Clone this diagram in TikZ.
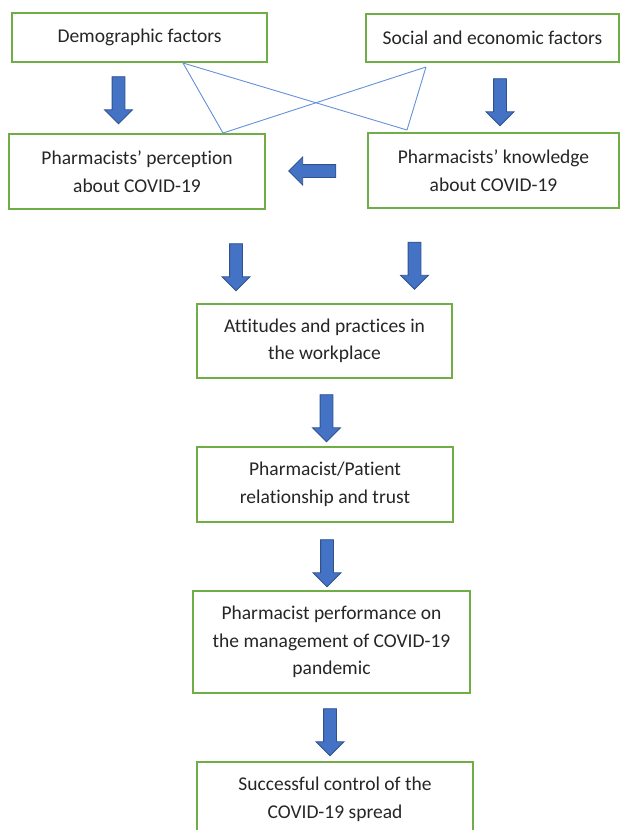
\documentclass[tikz,border=0pt]{standalone}
\usepackage{fontspec}
\setmainfont{Carlito}[Ligatures=NoCommon]
\usetikzlibrary{shapes.arrows}

\definecolor{boxgreen}{RGB}{112,173,71}
\definecolor{arrowfill}{RGB}{68,114,196}
\definecolor{arrowline}{RGB}{47,82,143}
\definecolor{linkblue}{RGB}{100,145,218}

\def\boxw{255}

\begin{document}
\begin{tikzpicture}[x=1pt,y=-1pt]
    \tikzstyle{every node}=[font=\fontsize{19.5}{27.5}\selectfont, text=black!85]
    \tikzstyle{factor}=[rectangle, draw=boxgreen, line width=2pt, fill=white, align=center, inner sep=0pt]
    \tikzstyle{block arrow}=[single arrow, draw=arrowline, fill=arrowfill, line width=0.8pt,
        inner sep=6pt, single arrow head extend=7.5pt, minimum height=47pt]
    \tikzstyle{down arrow}=[block arrow, shape border rotate=270]
    \tikzstyle{left arrow}=[block arrow, shape border rotate=180]
    \tikzstyle{link}=[draw=linkblue, line width=0.9pt]

    \useasboundingbox (0,0) rectangle (620,830);

    % Draw the top row of factors
    \node[factor, minimum width=\boxw, minimum height=49] (demo) at (139.5,37.5) {Demographic factors};
    \node[factor, minimum width=253, minimum height=48] (social) at (492.5,38) {Social and economic factors};

    % Draw the perception and knowledge boxes
    \node[factor, minimum width=256, minimum height=75] (percep) at (137,171.5) {Pharmacists’ perception\\about COVID-19};
    \node[factor, minimum width=251, minimum height=75] (know) at (493.5,170.5) {Pharmacists’ knowledge\\about COVID-19};

    % Draw the chain down the middle
    \node[factor, minimum width=\boxw, minimum height=74] (att) at (324.5,341) {Attitudes and practices in\\the workplace};
    \node[factor, minimum width=256, minimum height=75] (rel) at (325,484.5) {Pharmacist/Patient\\relationship and trust};
    \node[factor, minimum width=277, minimum height=102] (perf) at (331.5,642) {Pharmacist performance on\\the management of COVID-19\\pandemic};
    \node[factor, minimum width=276, minimum height=75] (ctrl) at (335,799.5) {Successful control of the\\COVID-19 spread};

    % Draw the block arrows
    \foreach \name / \x / \y in {a1/118.5/97, a2/500/99, a4/236/264, a5/414.5/262.5,
                                 a6/326.5/415, a7/327/560, a8/330/729}
        \node[down arrow] (\name) at (\x,\y) {};
    \node[left arrow] (a3) at (315.5,171) {};

    % Cross links between the factors
    \coordinate (dl) at ([xshift=43.5pt]demo.south);
    \coordinate (sl) at ([xshift=-66.5pt,yshift=-4pt]social.south);
    \coordinate (pl) at ([xshift=86pt]percep.north);
    \coordinate (kl) at ([xshift=-86.5pt,yshift=2pt]know.north);
    \path[link] (dl) -- (pl);
    \path[link] (dl) -- (kl);
    \path[link] (sl) -- (pl);
    \path[link] (sl) -- (kl);
\end{tikzpicture}
\end{document}
